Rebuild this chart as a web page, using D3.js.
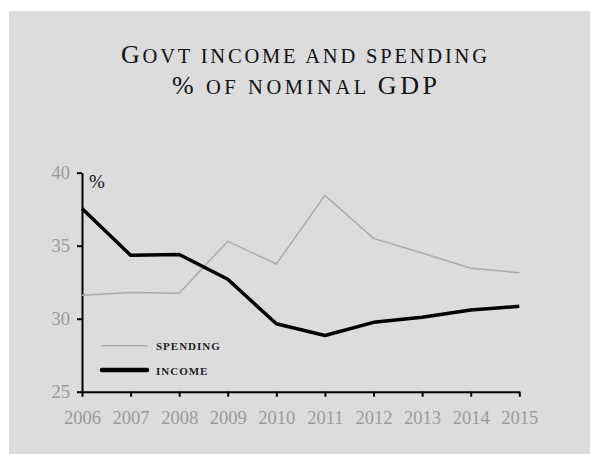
<!DOCTYPE html>
<html>
<head>
<meta charset="utf-8">
<script src="https://cdn.jsdelivr.net/npm/d3@7"></script>
<style>
  html, body { margin: 0; padding: 0; background: #ffffff; }
  svg { display: block; }
  text { font-family: "Liberation Serif", "DejaVu Serif", serif; }
</style>
</head>
<body>
<svg id="chart" width="590" height="454"></svg>
<script>
// Government income and spending, % of nominal GDP
const years = [2006, 2007, 2008, 2009, 2010, 2011, 2012, 2013, 2014, 2015];
const spending = [31.6, 31.8, 31.75, 35.3, 33.75, 38.45, 35.5, 34.5, 33.45, 33.15];
const income = [37.55, 34.35, 34.4, 32.7, 29.65, 28.85, 29.75, 30.1, 30.6, 30.85];
const yTicks = [25, 30, 35, 40];
const titleLines = ["Govt income and spending", "% of nominal GDP"];
const seriesNames = ["spending", "income"];

const svg = d3.select("#chart");

// panel background
svg.append("rect")
  .attr("x", 9).attr("y", 11)
  .attr("width", 590 - 9).attr("height", 454 - 11)
  .attr("fill", "#dcdcde");

// title set in small caps: capitals at full size, lower case as smaller capitals
const titleStarts = [121, 172];
const titleWidths = [366, 265];
titleLines.forEach((t, i) => {
  const txt = svg.append("text")
    .attr("x", titleStarts[i])
    .attr("y", 63 + i * 31)
    .attr("fill", "#111")
    .attr("textLength", titleWidths[i])
    .attr("lengthAdjust", "spacing");
  // split into runs of capitals / non-capitals
  const runs = t.match(/[A-Z%]+|[^A-Z%]+/g);
  runs.forEach(r => {
    const big = /[A-Z%]/.test(r[0]);
    txt.append("tspan")
      .attr("font-size", big ? 26 : 20.5)
      .text(big ? r : r.toUpperCase());
  });
});

const x = d3.scaleLinear().domain([2006, 2015]).range([82, 519.3]);
const y = d3.scaleLinear().domain([25, 40]).range([391.7, 172.7]);

// x axis
const xAxis = svg.append("g")
  .attr("transform", `translate(0,${y(25)})`)
  .call(d3.axisBottom(x).tickValues(years).tickFormat(d3.format("d")).tickSize(5).tickPadding(14).tickSizeOuter(0));
// y axis
const yAxis = svg.append("g")
  .attr("transform", `translate(${x(2006)},0)`)
  .call(d3.axisLeft(y).tickValues(yTicks).tickSize(5).tickPadding(7).tickSizeOuter(0));

[xAxis, yAxis].forEach(g => {
  g.select(".domain").attr("stroke", "#000").attr("stroke-width", 2);
  g.selectAll(".tick line").attr("stroke", "#000").attr("stroke-width", 2);
  g.selectAll(".tick text")
    .attr("fill", "#9a9a9a")
    .attr("font-size", 18.5)
    .style("font-family", "'Liberation Serif', serif");
});

// unit label
svg.append("text")
  .attr("x", 89).attr("y", 188)
  .attr("font-size", 19)
  .attr("fill", "#111")
  .text("%");

const line = vals => d3.line()
  .x((d, i) => x(years[i]))
  .y(d => y(d))(vals);

svg.append("path")
  .attr("d", line(spending))
  .attr("fill", "none")
  .attr("stroke", "#aaaaaa")
  .attr("stroke-width", 1.5);

svg.append("path")
  .attr("d", line(income))
  .attr("fill", "none")
  .attr("stroke", "#000")
  .attr("stroke-width", 3.5)
  .attr("stroke-linejoin", "round");

// legend
const legend = [
  { name: seriesNames[0], color: "#aaaaaa", width: 1.5, yPos: 345.7 },
  { name: seriesNames[1], color: "#000", width: 4.5, yPos: 370 }
];
legend.forEach(l => {
  svg.append("line")
    .attr("x1", 102).attr("x2", 147)
    .attr("y1", l.yPos).attr("y2", l.yPos)
    .attr("stroke", l.color)
    .attr("stroke-width", l.width)
    .attr("stroke-linecap", "round");
  svg.append("text")
    .attr("x", 156).attr("y", l.yPos + 4.5)
    .attr("font-size", 11)
    .attr("font-weight", "bold")
    .attr("fill", "#222")
    .style("letter-spacing", "1px")
    .text(l.name.toUpperCase());
});
</script>
</body>
</html>
